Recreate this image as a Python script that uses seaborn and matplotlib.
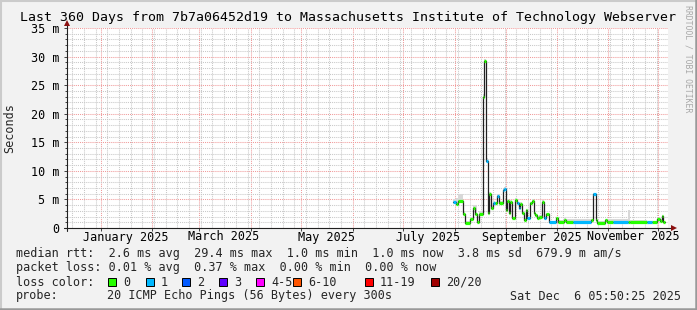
import numpy as np
import pandas as pd
import matplotlib
matplotlib.use("Agg")
import matplotlib.pyplot as plt
import matplotlib.dates as mdates
from matplotlib.ticker import MultipleLocator, FixedLocator, FixedFormatter, NullFormatter
from matplotlib.patches import Rectangle
from matplotlib.lines import Line2D
import seaborn as sns

# ---------------- data ----------------
times = [
    "2025-07-31 00:00", "2025-08-01 20:00", "2025-08-03 00:00", "2025-08-06 00:00",
    "2025-08-07 06:00", "2025-08-10 12:00", "2025-08-11 18:00", "2025-08-13 06:00",
    "2025-08-14 12:00", "2025-08-15 15:00", "2025-08-17 18:00", "2025-08-18 08:00",
    "2025-08-19 20:00", "2025-08-20 18:00", "2025-08-21 08:00", "2025-08-22 20:00",
    "2025-08-24 00:00", "2025-08-25 06:00", "2025-08-26 12:00", "2025-08-27 15:00",
    "2025-08-29 18:00", "2025-08-30 15:00", "2025-08-31 12:00", "2025-09-01 10:00",
    "2025-09-02 08:00", "2025-09-03 04:00", "2025-09-04 08:00", "2025-09-06 04:00",
    "2025-09-07 08:00", "2025-09-08 06:00", "2025-09-09 04:00", "2025-09-10 08:00",
    "2025-09-11 06:00", "2025-09-12 18:00", "2025-09-13 15:00", "2025-09-15 04:00",
    "2025-09-16 08:00", "2025-09-17 06:00", "2025-09-18 04:00", "2025-09-19 08:00",
    "2025-09-20 12:00", "2025-09-22 08:00", "2025-09-23 06:00", "2025-09-24 12:00",
    "2025-09-26 06:00", "2025-09-30 18:00", "2025-10-01 15:00", "2025-10-05 12:00",
    "2025-10-06 18:00", "2025-10-11 00:00", "2025-10-21 18:00", "2025-10-23 00:00",
    "2025-10-24 18:00", "2025-10-25 12:00", "2025-10-30 00:00", "2025-10-31 06:00",
    "2025-11-04 00:00", "2025-11-12 20:00", "2025-11-14 00:00", "2025-11-24 06:00",
    "2025-11-27 06:00", "2025-11-30 06:00", "2025-12-01 18:00", "2025-12-03 00:00",
    "2025-12-03 20:00", "2025-12-05 00:00",
]
median_ms = [
    4.5, 4.2, 4.8, 2.4, 0.9, 1.6, 3.5, 2.4, 1.0, 2.4, 23.0, 29.3,
    11.8, 2.6, 6.0, 3.5, 4.4, 4.3, 5.6, 4.4, 6.6, 6.8, 3.1, 4.7,
    2.6, 4.6, 1.7, 4.9, 4.3, 3.5, 4.2, 2.7, 1.4, 3.1, 1.7, 4.3,
    4.8, 2.7, 2.2, 1.8, 2.0, 4.6, 1.7, 2.4, 1.0, 1.8, 1.1, 1.4,
    1.0, 1.0, 1.4, 5.9, 1.4, 0.9, 1.4, 1.0, 1.0, 1.0, 1.0, 1.0,
    1.0, 1.6, 1.2, 2.1, 1.0, 1.0,
]
loss_count = [
    1, 0, 0, 0, 0, 0, 0, 0, 0, 0, 0, 0,
    1, 0, 0, 0, 1, 0, 1, 0, 1, 1, 0, 0,
    0, 0, 0, 0, 1, 1, 0, 0, 0, 0, 1, 0,
    0, 0, 0, 0, 0, 0, 1, 0, 1, 0, 0, 0,
    0, 1, 0, 1, 0, 0, 0, 0, 1, 0, 0, 1,
    0, 0, 0, 0, 0, 0,
]
smoke_hi_ms = [
    5.0, 5.2, 6.0, 3.0, 1.3, 2.0, 4.0, 4.0, 1.3, 2.9, 23.4, 29.6,
    12.2, 3.0, 6.3, 3.8, 4.8, 4.6, 5.9, 4.7, 6.9, 7.1, 3.4, 5.0,
    2.9, 4.9, 2.0, 5.2, 4.6, 3.8, 4.5, 3.0, 1.7, 3.4, 2.0, 4.6,
    5.1, 3.0, 2.5, 2.1, 2.3, 4.9, 2.0, 2.7, 1.3, 2.0, 1.4, 1.7,
    1.5, 1.5, 1.6, 6.1, 1.6, 1.3, 1.6, 1.5, 1.5, 3.1, 1.4, 1.3,
    1.3, 1.8, 1.5, 2.3, 1.3, 1.3,
]

loss_labels = ["0", "1", "2", "3", "4-5", "6-10", "11-19", "20/20"]
loss_colors = ["#26ff00", "#00b8ff", "#0059ff", "#5e00ff",
               "#ff00ff", "#ff5500", "#ff0000", "#a00000"]

y_ticks = [0, 5, 10, 15, 20, 25, 30, 35]
y_tick_labels = ["0", "5 m", "10 m", "15 m", "20 m", "25 m", "30 m", "35 m"]
x_label_dates = ["2025-01-16", "2025-03-16", "2025-05-16",
                 "2025-07-16", "2025-09-16", "2025-11-16"]
x_label_texts = ["January 2025", "March 2025", "May 2025",
                 "July 2025", "September 2025", "November 2025"]

title = "Last 360 Days from 7b7a06452d19 to Massachusetts Institute of Technology Webserver"
stat_line1 = "median rtt:  2.6 ms avg  29.4 ms max  1.0 ms min  1.0 ms now  3.8 ms sd  679.9 m am/s"
stat_line2 = "packet loss: 0.01 % avg  0.37 % max  0.00 % min  0.00 % now"
probe_text = "20 ICMP Echo Pings (56 Bytes) every 300s"
stamp_text = "Sat Dec  6 05:50:25 2025"
x_start = "2024-12-11 18:00"
x_end = "2025-12-06 18:00"

# ---------------- figure ----------------
sns.set_style("white")
MONO = ["DejaVu Sans Mono"]
plt.rcParams["font.family"] = MONO
plt.rcParams["font.size"] = 8.5

W, H = 697, 310
fig = plt.figure(figsize=(W / 100, H / 100), dpi=100, facecolor="#f2f2f2")

def fx(px):
    return px / W

def fy(py):
    return 1 - py / H

L, R, T, B = 66.7, 668.0, 28.0, 228.0
ax = fig.add_axes([fx(L), fy(B), (R - L) / W, (B - T) / H])
ax.set_facecolor("white")

t = pd.to_datetime(times)
med = np.array(median_ms)
loss = np.array(loss_count)
smoke = np.array(smoke_hi_ms)

# smoke (spread of pings)
ax.fill_between(t, med, smoke, step="post", color="#d8d8d8", lw=0, zorder=2)

# median line
sns.lineplot(x=t, y=med, drawstyle="steps-post", color="#202020",
             linewidth=0.9, estimator=None, sort=False, legend=False, ax=ax, zorder=3)

# loss-coloured median bands
for lvl, col in enumerate(loss_colors):
    idx = [i for i in range(len(med) - 1) if loss[i] == lvl]
    if idx:
        ax.hlines([med[i] for i in idx], [t[i] for i in idx], [t[i + 1] for i in idx],
                  colors=col, linewidth=2.3, zorder=4, capstyle="butt")

ax.set_xlim(pd.Timestamp(x_start), pd.Timestamp(x_end))
ax.set_ylim(0, 35)
ax.set_xlabel("")
ax.set_ylabel("")

# grid
ax.xaxis.set_major_locator(mdates.MonthLocator())
ax.xaxis.set_minor_locator(mdates.WeekdayLocator(byweekday=mdates.SU))
ax.xaxis.set_major_formatter(NullFormatter())
ax.xaxis.set_minor_formatter(NullFormatter())
ax.yaxis.set_major_locator(FixedLocator(y_ticks))
ax.yaxis.set_major_formatter(FixedFormatter(y_tick_labels))
ax.yaxis.set_minor_locator(MultipleLocator(1))

ax.grid(which="minor", color="#c8c8c8", linestyle=(0, (1, 1)), linewidth=0.75, zorder=0)
ax.grid(which="major", color="#f09a9a", linestyle=(0, (1, 1)), linewidth=0.75, zorder=1)
ax.set_axisbelow(True)

for s in ax.spines.values():
    s.set_visible(False)

ax.tick_params(axis="y", which="major", direction="out", length=2.5, width=0.7,
               color="#404040", pad=3.0, labelsize=8.5, labelcolor="#000000", left=True)
ax.tick_params(axis="y", which="minor", direction="out", length=1.2, width=0.7,
               color="#404040", left=True)
ax.tick_params(axis="x", which="major", direction="out", length=2.0, width=0.7,
               color="#404040", bottom=True)
ax.tick_params(axis="x", which="minor", length=0, bottom=False)

# month labels
xt = ax.get_xaxis_transform()
for d, lab in zip(x_label_dates, x_label_texts):
    ax.text(pd.Timestamp(d), -9 / (B - T), lab, transform=xt, ha="center", va="center",
            fontsize=8.5, color="#000000")

# axes lines with arrows
fig.add_artist(Line2D([fx(L), fx(672)], [fy(B), fy(B)], color="#202020", lw=0.8))
fig.add_artist(Line2D([fx(L), fx(L)], [fy(231), fy(24)], color="#202020", lw=0.8))
fig.add_artist(Line2D([fx(L - 3), fx(L)], [fy(B), fy(B)], color="#202020", lw=0.8))
fig.add_artist(Line2D([fx(674)], [fy(B)], marker=">", markersize=5, color="#8b1010",
                      markeredgewidth=0, linestyle="none"))
fig.add_artist(Line2D([fx(L)], [fy(23)], marker="^", markersize=5, color="#8b1010",
                      markeredgewidth=0, linestyle="none"))

# title and labels
fig.text(fx(348.5), fy(18), title, ha="center", va="center", fontsize=9.55, color="#000000")
fig.text(fx(10), fy(128), "Seconds", rotation=90, ha="center", va="center", fontsize=8.5)
fig.text(fx(688), fy(5), "RRDTOOL / TOBI OETIKER", rotation=-90, ha="center", va="top",
         fontsize=5.9, color="#a8a8a8")

# legend block
fig.text(fx(16), fy(254), stat_line1, ha="left", va="center", fontsize=8.5)
fig.text(fx(16), fy(268), stat_line2, ha="left", va="center", fontsize=8.5)
fig.text(fx(16), fy(282), "loss color:", ha="left", va="center", fontsize=8.5)
fig.text(fx(16), fy(296), "probe:", ha="left", va="center", fontsize=8.5)
fig.text(fx(107), fy(296), probe_text, ha="left", va="center", fontsize=8.5)
fig.text(fx(681), fy(296), stamp_text, ha="right", va="center", fontsize=8.5)

sq_x = [108, 146, 182, 219, 256, 293, 365, 431]
for px, lab, col in zip(sq_x, loss_labels, loss_colors):
    fig.add_artist(Rectangle((fx(px), fy(286)), 8 / W, 8 / H, facecolor=col,
                             edgecolor="#000000", linewidth=0.7))
    fig.text(fx(px + 15), fy(282), lab, ha="left", va="center", fontsize=8.5)

# frame shading
fig.add_artist(Line2D([0, 1], [fy(0.8), fy(0.8)], color="#cbcbcb", lw=1.5))
fig.add_artist(Line2D([fx(0.8), fx(0.8)], [0, 1], color="#cbcbcb", lw=1.5))
fig.add_artist(Line2D([0, 1], [fy(308.8), fy(308.8)], color="#999999", lw=1.8))
fig.add_artist(Line2D([fx(695.8), fx(695.8)], [0, 1], color="#999999", lw=1.8))

fig.savefig("out.png", dpi=100, facecolor=fig.get_facecolor())
